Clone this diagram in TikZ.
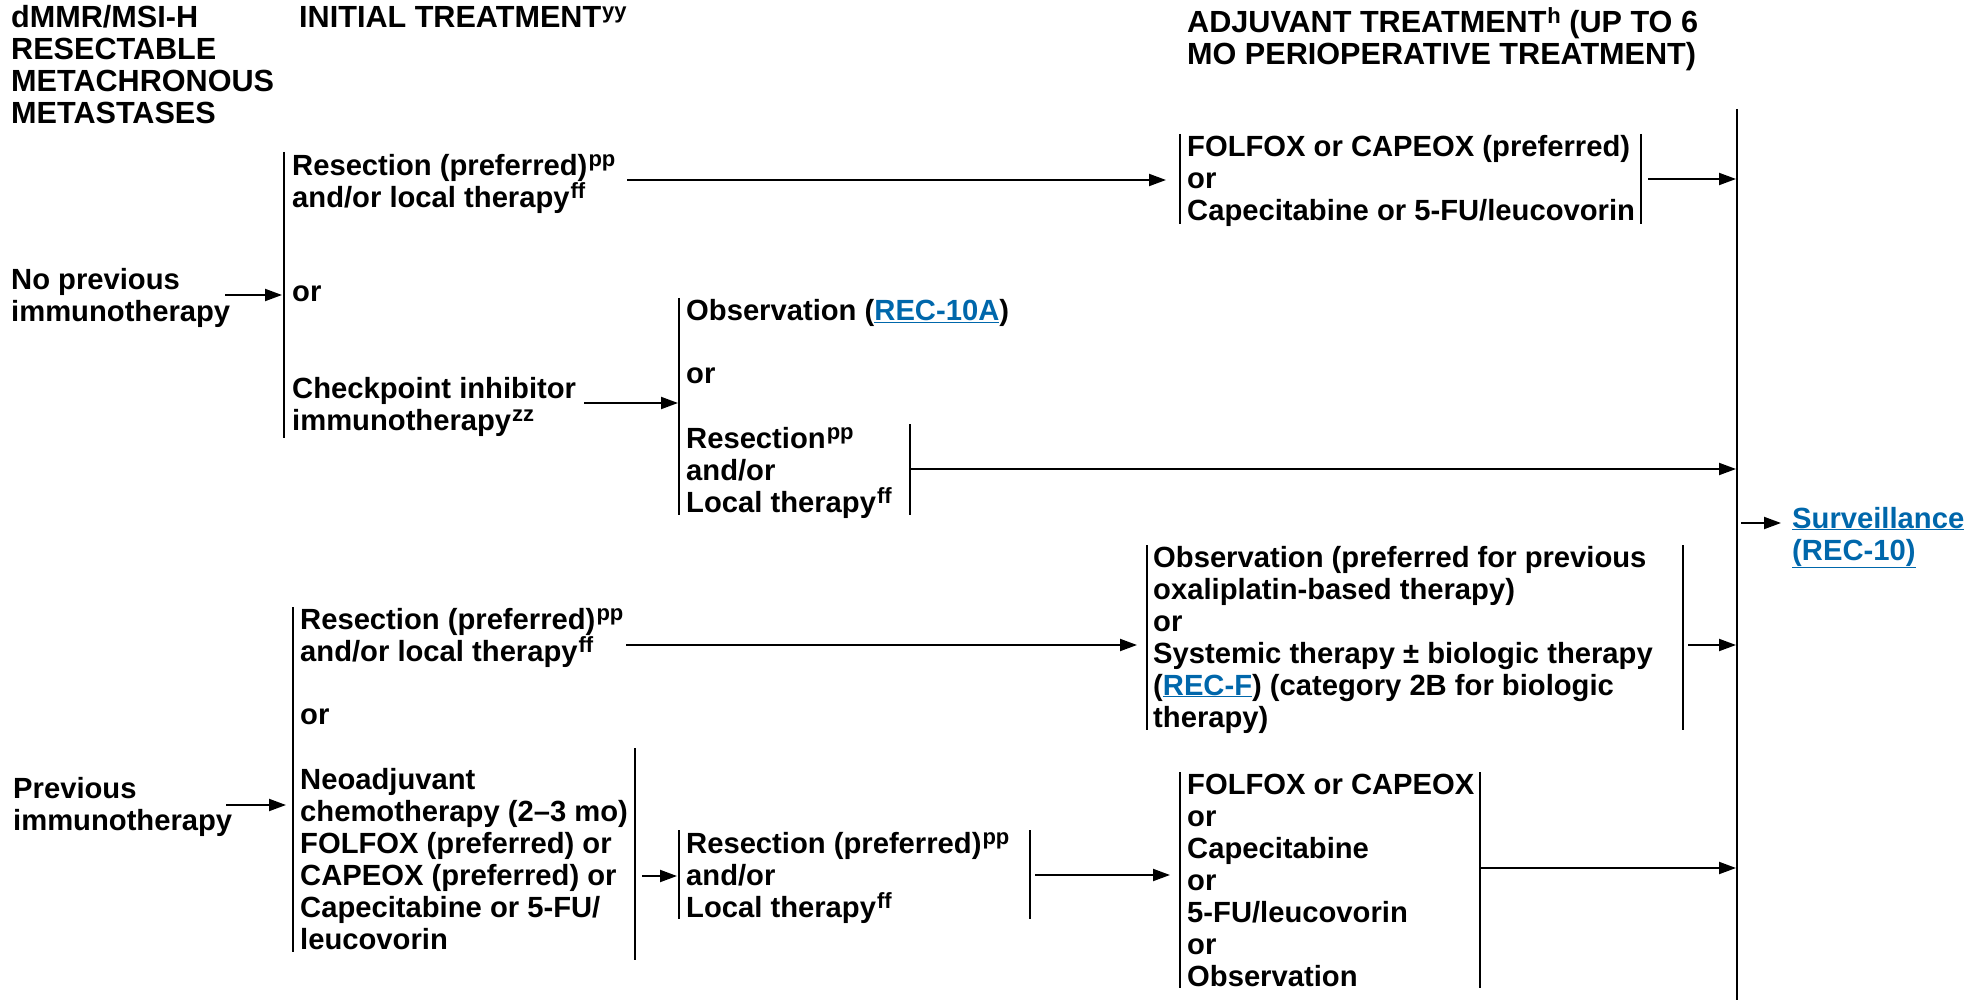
\documentclass[tikz,border=0pt]{standalone}
\usepackage{fontspec}
\setmainfont{Liberation Sans}
\usetikzlibrary{arrows.meta}
\definecolor{linkblue}{RGB}{0,103,171}
\newcommand{\lnk}[1]{{\color{linkblue}\underline{#1}}}
\newcommand{\sups}[1]{\kern1pt\raisebox{9pt}{\fontsize{22}{22}\selectfont #1}}
\setlength{\lineskiplimit}{-100pt}
\tikzset{
    txt/.style={anchor=base west, inner sep=0pt, align=left,
        font=\bfseries\fontsize{29.2}{32}\selectfont},
    head/.style={txt, font=\bfseries\fontsize{30.6}{32}\selectfont},
    bar/.style={line width=2pt},
    arr/.style={line width=2pt, -{Triangle[length=17pt, width=12pt]}},
}
\begin{document}
\begin{tikzpicture}[x=1pt, y=-1pt]
    \useasboundingbox (0, 0) rectangle (1982, 1000);
    % headings (placed at the baseline of their last line)
    \node (h1) at (11, 124) [head] {dMMR/MSI-H\\RESECTABLE\\METACHRONOUS\\METASTASES};
    \node (h2) at (299, 28) [head] {INITIAL TREATMENT\sups{yy}};
    \node (h3) at (1187, 65) [head] {ADJUVANT TREATMENT\sups{h} (UP TO 6\\MO PERIOPERATIVE TREATMENT)};
    % no previous immunotherapy
    \node (np) at (11, 322) [txt] {No previous\\immunotherapy};
    \node (r1) at (292, 208) [txt] {Resection (preferred)\sups{pp}\\and/or local therapy\sups{ff}};
    \node (or1) at (292, 302) [txt] {or};
    \node (ci) at (292, 430) [txt] {Checkpoint inhibitor\\immunotherapy\sups{zz}};
    \node (ob1) at (686, 321) [txt] {Observation (\lnk{REC-10A})};
    \node (or2) at (686, 384) [txt] {or};
    \node (r2) at (686, 512) [txt] {Resection\sups{pp}\\and/or\\Local therapy\sups{ff}};
    \node (a1) at (1187, 221) [txt] {FOLFOX or CAPEOX (preferred)\\or\\Capecitabine or 5-FU/leucovorin};
    \node (sv) at (1792, 560) [txt] {\lnk{Surveillance}\\\lnk{(REC-10)}};
    % previous immunotherapy
    \node (pv) at (13, 830) [txt] {Previous\\immunotherapy};
    \node (r3) at (300, 661) [txt] {Resection (preferred)\sups{pp}\\and/or local therapy\sups{ff}};
    \node (or3) at (300, 724) [txt] {or};
    \node (nc) at (300, 949) [txt] {Neoadjuvant\\chemotherapy (2--3 mo)\\FOLFOX (preferred) or\\CAPEOX (preferred) or\\Capecitabine or 5-FU/\\leucovorin};
    \node (r4) at (686, 917) [txt] {Resection (preferred)\sups{pp}\\and/or\\Local therapy\sups{ff}};
    \node (a2) at (1153, 727) [txt] {Observation (preferred for previous\\oxaliplatin-based therapy)\\or\\Systemic therapy ± biologic therapy\\(\lnk{REC-F}) (category 2B for biologic\\therapy)};
    \node (a3) at (1187, 986) [txt] {FOLFOX or CAPEOX\\or\\Capecitabine\\or\\5-FU/leucovorin\\or\\Observation};
    % bars
    \draw[bar] (284, 152) -- (284, 438);
    \draw[bar] (679, 298) -- (679, 515);
    \draw[bar] (910, 424) -- (910, 515);
    \draw[bar] (1180, 134) -- (1180, 224);
    \draw[bar] (1641, 134) -- (1641, 224);
    \draw[bar] (1737, 109) -- (1737, 1000);
    \draw[bar] (293, 607) -- (293, 952);
    \draw[bar] (635, 748) -- (635, 960);
    \draw[bar] (679, 830) -- (679, 919);
    \draw[bar] (1030, 830) -- (1030, 919);
    \draw[bar] (1147, 545) -- (1147, 730);
    \draw[bar] (1683, 545) -- (1683, 730);
    \draw[bar] (1180, 772) -- (1180, 988);
    \draw[bar] (1480, 772) -- (1480, 988);
    % arrow ends
    \coordinate (p1) at (225, 295);   \coordinate (q1) at (282, 295);
    \coordinate (p2) at (627, 180);   \coordinate (q2) at (1166, 180);
    \coordinate (p3) at (1648, 179);  \coordinate (q3) at (1736, 179);
    \coordinate (p4) at (584, 403);   \coordinate (q4) at (678, 403);
    \coordinate (p5) at (910, 469);   \coordinate (q5) at (1736, 469);
    \coordinate (p6) at (1741, 523);  \coordinate (q6) at (1781, 523);
    \coordinate (p7) at (226, 805);   \coordinate (q7) at (286, 805);
    \coordinate (p8) at (626, 645);   \coordinate (q8) at (1137, 645);
    \coordinate (p9) at (1688, 645);  \coordinate (q9) at (1736, 645);
    \coordinate (p10) at (642, 876); \coordinate (q10) at (677, 876);
    \coordinate (p11) at (1035, 875); \coordinate (q11) at (1170, 875);
    \coordinate (p12) at (1480, 868); \coordinate (q12) at (1736, 868);
    \foreach \i in {1,...,12}
        \draw[arr] (p\i) -- (q\i);
\end{tikzpicture}
\end{document}
